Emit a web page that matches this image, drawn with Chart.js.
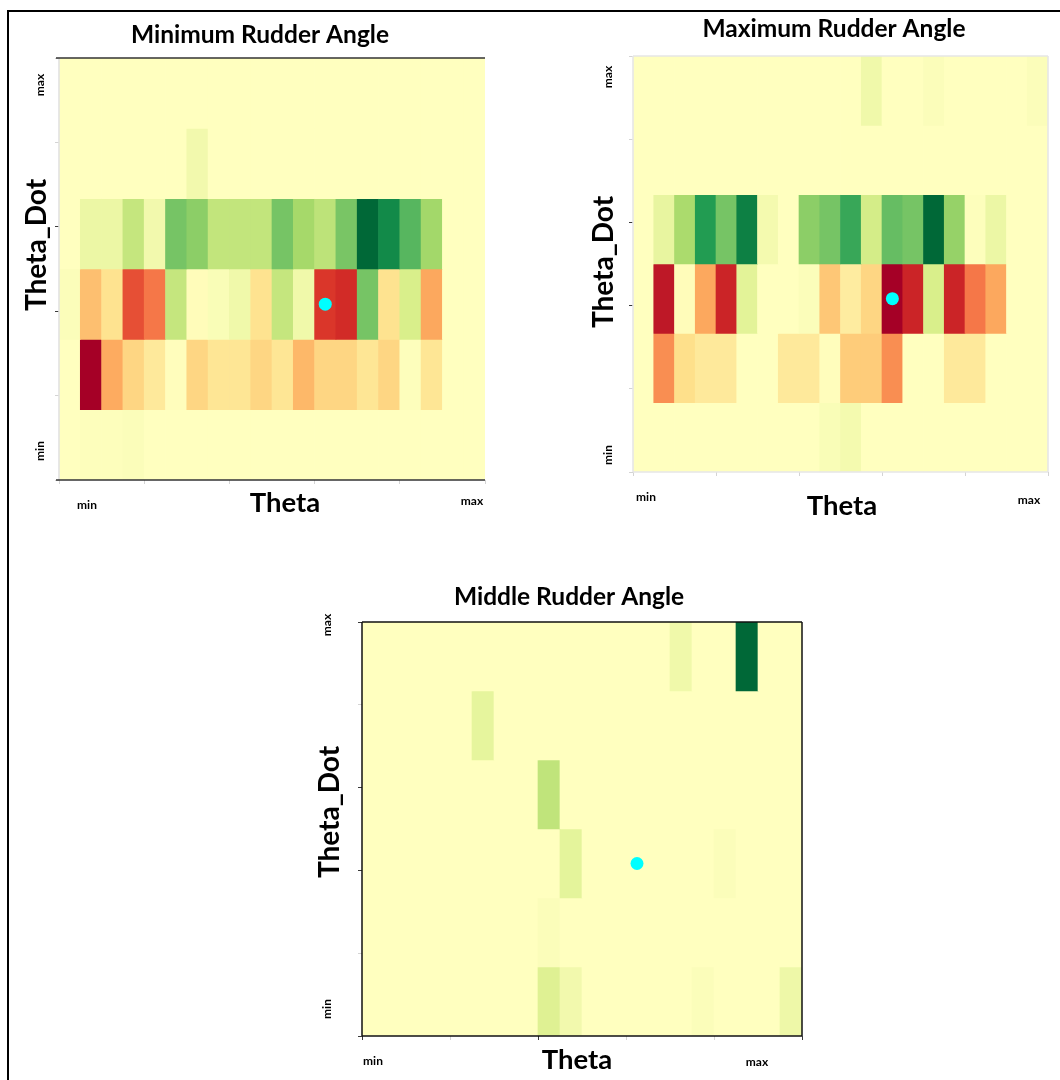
<!DOCTYPE html>
<html>
<head>
<meta charset="utf-8">
<title>Rudder Angle Heatmaps</title>
<script src="https://cdn.jsdelivr.net/npm/chart.js@4.4.1/dist/chart.umd.min.js"></script>
<style>
  html, body { margin: 0; padding: 0; background: #fff; width: 1060px; height: 1080px; overflow: hidden; }
  #frame { position: absolute; left: 7px; top: 10px; width: 1200px; height: 1200px;
           border-left: 2px solid #000; border-top: 2px solid #000; }
  canvas { position: absolute; left: 0; top: 0; }
</style>
</head>
<body>
<div id="frame"></div>
<canvas id="cMin" width="1060" height="1080"></canvas>
<canvas id="cMax" width="1060" height="1080"></canvas>
<canvas id="cMid" width="1060" height="1080"></canvas>
<script>
// ---- Data -------------------------------------------------------------
// Theta is split into 20 bins, Theta_Dot into 6 bins.
const thetaBinCenters = [0.5, 1.5, 2.5, 3.5, 4.5, 5.5, 6.5, 7.5, 8.5, 9.5,
                         10.5, 11.5, 12.5, 13.5, 14.5, 15.5, 16.5, 17.5, 18.5, 19.5];
// Theta_Dot bin ranges, listed from the top row (max) to the bottom row (min)
const thetaDotBinRanges = [[5, 6], [4, 5], [3, 4], [2, 3], [1, 2], [0, 1]];
const thetaTicks = [0, 4, 8, 12, 16, 20];
const thetaDotTicks = [0, 1.2, 2.4, 3.6, 4.8, 6];
const axisEndLabels = ['min', 'max'];
// Current state (theta bin, theta_dot bin) marked with a dot
const currentState = [12.5, 2.5];

// Action values per cell, rows from Theta_Dot max to min, columns Theta min..max
const minRudderValues = [
  [0, 0, 0, 0, 0, 0, 0, 0, 0, 0, 0, 0, 0, 0, 0, 0, 0, 0, 0, 0],
  [0, 0, 0, 0, 0, 0, 0.07, 0, 0, 0, 0, 0, 0, 0, 0, 0, 0, 0, 0, 0],
  [0, 0.1, 0.1, 0.28, 0.07, 0.55, 0.48, 0.29, 0.29, 0.29, 0.55, 0.4, 0.31, 0.54, 1.0, 0.86, 0.64, 0.41, 0, 0],
  [0.02, -0.33, -0.18, -0.7, -0.57, 0.28, -0.02, 0.03, 0.08, -0.18, 0.28, 0.08, -0.78, -0.82, 0.55, -0.18, 0.2, -0.42, 0, 0],
  [0, -1.0, -0.41, -0.24, -0.14, -0.01, -0.24, -0.16, -0.16, -0.24, -0.16, -0.36, -0.24, -0.24, -0.16, -0.24, 0.01, -0.16, 0, 0],
  [0, 0.01, 0.01, 0.02, 0, 0, 0, 0, 0, 0, 0, 0, 0, 0, 0, 0, 0, 0, 0, 0]
];
const maxRudderValues = [
  [0, 0, 0, 0, 0, 0, 0, 0, 0, 0, 0, 0.08, 0, 0, 0.02, 0, 0, 0, 0, 0.02],
  [0, 0, 0, 0, 0, 0, 0, 0, 0, 0, 0, 0, 0, 0, 0, 0, 0, 0, 0, 0],
  [0, 0.12, 0.38, 0.78, 0.55, 0.9, 0.06, 0, 0.48, 0.55, 0.72, 0.22, 0.6, 0.55, 1.0, 0.45, 0.01, 0.1, 0, 0],
  [0, -0.9, -0.02, -0.42, -0.85, 0.15, 0, 0, 0.02, -0.3, -0.12, -0.24, -1.0, -0.85, 0.2, -0.85, -0.57, -0.42, 0, 0],
  [0, -0.5, -0.2, -0.14, -0.14, 0, 0, -0.14, -0.14, -0.01, -0.28, -0.28, -0.5, 0, 0, -0.14, -0.14, 0, 0, 0],
  [0, 0, 0, 0, 0, 0, 0, 0, 0, 0.03, 0.06, 0, 0, 0, 0, 0, 0, 0, 0, 0]
];
const middleRudderValues = [
  [0, 0, 0, 0, 0, 0, 0, 0, 0, 0, 0, 0, 0, 0, 0.08, 0, 0, 1.0, 0, 0],
  [0, 0, 0, 0, 0, 0.13, 0, 0, 0, 0, 0, 0, 0, 0, 0, 0, 0, 0, 0, 0],
  [0, 0, 0, 0, 0, 0, 0, 0, 0.3, 0, 0, 0, 0, 0, 0, 0, 0, 0, 0, 0],
  [0, 0, 0, 0, 0, 0, 0, 0, 0, 0.14, 0, 0, 0, 0, 0, 0, 0.02, 0, 0, 0],
  [0, 0, 0, 0, 0, 0, 0, 0, 0.02, 0, 0, 0, 0, 0, 0, 0, 0, 0, 0, 0],
  [0, 0, 0, 0, 0, 0, 0, 0, 0.17, 0.07, 0, 0, 0, 0, 0, 0.02, 0, 0, 0, 0.09]
];

// ---- Colour scale (diverging red / yellow / green) -------------------
const RdYlGn = ['#a50026', '#d73027', '#f46d43', '#fdae61', '#fee08b', '#ffffbf',
                '#d9ef8b', '#a6d96a', '#66bd63', '#1a9850', '#006837'];
function hexRgb(h) {
  return [parseInt(h.slice(1, 3), 16), parseInt(h.slice(3, 5), 16), parseInt(h.slice(5, 7), 16)];
}
function valueColor(v) {
  const c = Math.max(-1, Math.min(1, v));
  const t = (c + 1) / 2 * (RdYlGn.length - 1);
  const i = Math.min(Math.floor(t), RdYlGn.length - 2);
  const f = t - i;
  const a = hexRgb(RdYlGn[i]), b = hexRgb(RdYlGn[i + 1]);
  const m = a.map((x, k) => Math.round(x + (b[k] - x) * f));
  return `rgb(${m[0]},${m[1]},${m[2]})`;
}

// ---- Panel layout -----------------------------------------------------
const panels = [
  {
    canvas: 'cMin', title: 'Minimum Rudder Angle', values: minRudderValues,
    area: { left: 59, top: 58, right: 485, bottom: 480 },
    titleAt: [260, 35], xTitleAt: [285, 503], yTitleAt: [37, 245],
    yMaxAt: [40, 85], yMinAt: [40, 451], xMinAt: [87, 505], xMaxAt: [472, 501],
    frame: { top: '#333', bottom: '#333', left: '#e2e2e2', right: null, width: 1.6, extendLeft: 3 },
    xTickDark: [], yTickDark: [2, 3]
  },
  {
    canvas: 'cMax', title: 'Maximum Rudder Angle', values: maxRudderValues,
    area: { left: 633, top: 56, right: 1048, bottom: 472 },
    titleAt: [834, 29], xTitleAt: [842, 506], yTitleAt: [604, 262],
    yMaxAt: [608, 77], yMinAt: [608, 455], xMinAt: [646, 497], xMaxAt: [1029, 500],
    frame: { top: '#e6e6e6', bottom: '#e6e6e6', left: '#e6e6e6', right: '#e6e6e6', width: 1.6, extendLeft: 0 },
    xTickDark: [], yTickDark: [2, 3]
  },
  {
    canvas: 'cMid', title: 'Middle Rudder Angle', values: middleRudderValues,
    area: { left: 362, top: 622, right: 802, bottom: 1036 },
    titleAt: [569, 597], xTitleAt: [577, 1060], yTitleAt: [330, 812],
    yMaxAt: [327, 625], yMinAt: [327, 1009], xMinAt: [373, 1061], xMaxAt: [757, 1062],
    frame: { top: '#111', bottom: '#111', left: '#111', right: '#111', width: 1.5, extendLeft: 0 },
    xTickDark: [0, 2, 5], yTickDark: [0, 2, 3, 5]
  }
];

const FONT = 'Lato, "Open Sans", "DejaVu Sans", sans-serif';

// Draws the plot frame, the panel title, axis titles and the min / max end labels
const panelDecor = {
  id: 'panelDecor',
  afterDatasetsDraw(chart, args, opts) {
    const { ctx, chartArea: a } = chart;
    const f = opts.frame;
    ctx.save();
    ctx.lineWidth = f.width;
    const line = (col, x1, y1, x2, y2) => {
      if (!col) return;
      ctx.strokeStyle = col;
      ctx.beginPath(); ctx.moveTo(x1, y1); ctx.lineTo(x2, y2); ctx.stroke();
    };
    line(f.left, a.left, a.top, a.left, a.bottom);
    line(f.right, a.right, a.top, a.right, a.bottom);
    line(f.top, a.left - f.extendLeft, a.top, a.right, a.top);
    line(f.bottom, a.left - f.extendLeft, a.bottom, a.right, a.bottom);
    ctx.restore();
  },
  afterDraw(chart, args, opts) {
    const ctx = chart.ctx;
    const text = (str, at, size, rotate) => {
      ctx.save();
      ctx.translate(at[0], at[1]);
      if (rotate) ctx.rotate(-Math.PI / 2);
      ctx.font = `bold ${size}px ${FONT}`;
      ctx.fillStyle = '#000';
      ctx.textAlign = 'center';
      ctx.textBaseline = 'middle';
      ctx.fillText(str, 0, 0);
      ctx.restore();
    };
    text(opts.title, opts.titleAt, 24.5, false);
    text('Theta', opts.xTitleAt, 27.5, false);
    text('Theta_Dot', opts.yTitleAt, 28, true);
    text(axisEndLabels[1], opts.yMaxAt, 12, true);
    text(axisEndLabels[0], opts.yMinAt, 12, true);
    text(axisEndLabels[0], opts.xMinAt, 12, false);
    text(axisEndLabels[1], opts.xMaxAt, 12, false);
  }
};

function buildPanel(p) {
  const rows = p.values.map((rowVals, r) => ({
    type: 'bar',
    data: thetaBinCenters.map((x) => ({ x: x, y: thetaDotBinRanges[r] })),
    backgroundColor: rowVals.map(valueColor),
    borderWidth: 0,
    barPercentage: 1,
    categoryPercentage: 1,
    grouped: false,
    order: 1
  }));
  const stateDot = {
    type: 'scatter',
    data: [{ x: currentState[0], y: currentState[1] }],
    backgroundColor: '#00ffff',
    borderWidth: 0,
    pointRadius: 6.5,
    order: -1
  };
  const tickCol = (dark) => (ctx) => dark.includes(ctx.index) ? '#3a3a3a' : '#d4d4d4';
  new Chart(document.getElementById(p.canvas), {
    type: 'bar',
    data: { datasets: [...rows, stateDot] },
    options: {
      responsive: false,
      animation: false,
      events: [],
      layout: { padding: {
        left: p.area.left - 4, top: p.area.top,
        right: 1060 - p.area.right, bottom: 1080 - p.area.bottom - 4 } },
      plugins: {
        legend: { display: false },
        tooltip: { enabled: false },
        title: { display: false },
        panelDecor: p
      },
      scales: {
        x: {
          type: 'linear', min: 0, max: 20, offset: false, position: 'bottom',
          grid: { display: true, offset: false, drawOnChartArea: false, drawTicks: true,
                  tickLength: 4, lineWidth: 1, color: tickCol(p.xTickDark), tickColor: tickCol(p.xTickDark) },
          border: { display: false },
          ticks: { display: false },
          afterBuildTicks: (s) => { s.ticks = thetaTicks.map((v) => ({ value: v })); },
          afterFit: (s) => { s.height = 4; }
        },
        y: {
          type: 'linear', min: 0, max: 6, offset: false, position: 'left',
          grid: { display: true, offset: false, drawOnChartArea: false, drawTicks: true,
                  tickLength: 4, lineWidth: 1, color: tickCol(p.yTickDark), tickColor: tickCol(p.yTickDark) },
          border: { display: false },
          ticks: { display: false },
          afterBuildTicks: (s) => { s.ticks = thetaDotTicks.map((v) => ({ value: v })); },
          afterFit: (s) => { s.width = 4; }
        }
      }
    },
    plugins: [panelDecor]
  });
}

panels.forEach(buildPanel);
</script>
</body>
</html>
